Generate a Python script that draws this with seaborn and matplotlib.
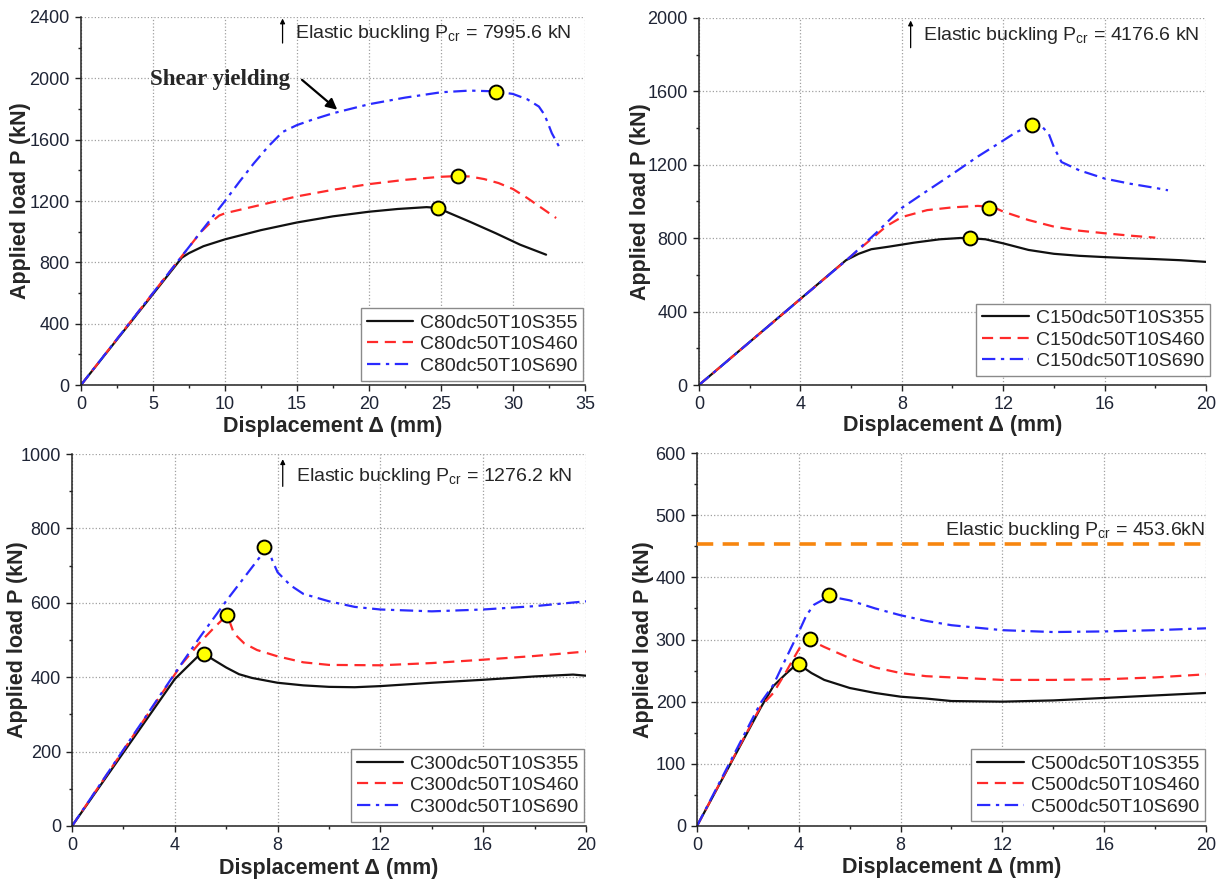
import matplotlib
matplotlib.use("Agg")
import matplotlib.pyplot as plt
from matplotlib.ticker import MultipleLocator
import seaborn as sns

# ---- C80 specimens ----
c80_labels = ["C80dc50T10S355", "C80dc50T10S460", "C80dc50T10S690"]
c80_x355 = [0, 7.0, 7.5, 8.5, 10, 12.5, 15, 17.5, 20, 22, 24, 24.8, 25.5, 27, 28.8, 30.5, 32.3]
c80_y355 = [0, 830, 860, 905, 950, 1010, 1060, 1100, 1130, 1148, 1160, 1155, 1125, 1065, 990, 915, 850]
c80_x460 = [0, 8.3, 9.0, 9.6, 10, 12.5, 15, 17.5, 20, 22.5, 25, 26, 27, 28, 29, 30, 31, 32, 33]
c80_y460 = [0, 995, 1060, 1105, 1120, 1175, 1230, 1273, 1310, 1338, 1358, 1362, 1360, 1343, 1317, 1278, 1219, 1154, 1089]
c80_x690 = [0, 9.0, 10, 11, 12, 13, 14, 15, 16, 17.5, 20, 22.5, 25, 27, 28.8, 30, 31, 31.8, 32.2, 32.7, 33.2]
c80_y690 = [0, 1080, 1200, 1325, 1445, 1555, 1650, 1695, 1728, 1772, 1831, 1874, 1909, 1920, 1915, 1898, 1863, 1816, 1761, 1642, 1555]
c80_peak_x = [24.8, 26.2, 28.8]
c80_peak_y = [1155, 1360, 1913]
c80_pcr = 7995.6

# ---- C150 specimens ----
c150_labels = ["C150dc50T10S355", "C150dc50T10S460", "C150dc50T10S690"]
c150_x355 = [0, 5.8, 6.3, 6.8, 7.5, 8.5, 9.5, 10.3, 10.7, 11.3, 12, 13, 14, 15, 16, 17, 18, 19, 20]
c150_y355 = [0, 680, 715, 740, 754, 776, 794, 801, 800, 794, 772, 736, 715, 704, 697, 691, 686, 680, 671]
c150_x460 = [0, 7.4, 8, 9, 10, 11, 11.6, 12, 13, 14, 15, 16, 17, 18]
c150_y460 = [0, 866, 915, 953, 968, 976, 970, 945, 899, 863, 841, 827, 814, 803]
c150_x690 = [0, 6, 7, 8, 9, 10, 11, 12, 12.5, 13, 13.5, 13.8, 14, 14.3, 15, 16, 17, 18, 18.5]
c150_y690 = [0, 702, 830, 965, 1058, 1150, 1245, 1332, 1377, 1408, 1413, 1368, 1296, 1215, 1170, 1125, 1097, 1074, 1061]
c150_peak_x = [10.7, 11.43, 13.15]
c150_peak_y = [800, 967, 1419]
c150_pcr = 4176.6

# ---- C300 specimens ----
c300_labels = ["C300dc50T10S355", "C300dc50T10S460", "C300dc50T10S690"]
c300_x355 = [0, 4, 4.5, 4.9, 5.15, 5.5, 6, 6.5, 7, 8, 9, 10, 11, 12, 14, 16, 18, 19.5, 20]
c300_y355 = [0, 395, 429, 456, 463, 447, 426, 408, 398, 385, 378, 374, 373, 376, 385, 393, 402, 407, 404]
c300_x460 = [0, 4.3, 5, 5.5, 5.9, 6.05, 6.3, 6.7, 7.2, 8, 9, 10, 12, 14, 16, 18, 20]
c300_y460 = [0, 438, 495, 531, 558, 565, 518, 491, 473, 456, 440, 433, 432, 438, 447, 457, 469]
c300_x690 = [0, 4, 5, 6, 7, 7.3, 7.6, 7.8, 8, 8.5, 9, 10, 11, 12, 14, 16, 18, 20]
c300_y690 = [0, 410, 510, 605, 695, 722, 750, 713, 682, 647, 624, 604, 589, 582, 577, 582, 591, 604]
c300_peak_x = [5.14, 6.02, 7.48]
c300_peak_y = [462, 568, 751]
c300_pcr = 1276.2

# ---- C500 specimens ----
c500_labels = ["C500dc50T10S355", "C500dc50T10S460", "C500dc50T10S690"]
c500_x355 = [0, 2.5, 3, 3.5, 3.8, 4.0, 4.5, 5, 6, 7, 8, 9, 10, 12, 14, 16, 18, 20]
c500_y355 = [0, 190, 225, 245, 256, 260, 246, 235, 222, 214, 208, 205, 201, 200, 202, 206, 210, 214]
c500_x460 = [0, 2.5, 3, 3.5, 3.8, 4.1, 4.3, 4.6, 5, 6, 7, 8, 9, 10, 12, 14, 16, 18, 20]
c500_y460 = [0, 192, 214, 248, 270, 291, 299, 296, 288, 270, 255, 246, 241, 239, 235, 235, 236, 239, 244]
c500_x690 = [0, 2.5, 3, 3.5, 4, 4.3, 4.6, 5, 5.5, 6, 7, 8, 9, 10, 12, 14, 16, 18, 20]
c500_y690 = [0, 198, 227, 270, 312, 339, 356, 365, 367, 363, 350, 339, 330, 323, 315, 312, 313, 315, 318]
c500_peak_x = [4.0, 4.43, 5.2]
c500_peak_y = [260, 301, 371]
c500_pcr = 453.6

sns.set_theme(style="ticks")
plt.rcParams["font.family"] = ["Liberation Sans", "DejaVu Sans"]
plt.rcParams["mathtext.fontset"] = "custom"
plt.rcParams["mathtext.rm"] = "Liberation Sans"
plt.rcParams["mathtext.it"] = "Liberation Sans:italic"
plt.rcParams["mathtext.bf"] = "Liberation Sans:bold"

fig = plt.figure(figsize=(12.23, 8.89), dpi=100)

positions = [
    [0.0662, 0.5669, 0.4121, 0.4140],
    [0.5715, 0.5669, 0.4146, 0.4129],
    [0.0589, 0.0709, 0.4202, 0.4184],
    [0.5699, 0.0709, 0.4162, 0.4195],
]

styles = [
    dict(color="#111111", linestyle="-", lw=1.6),
    dict(color="#ff2a2a", linestyle=(0, (5, 3)), lw=1.6),
    dict(color="#2a2aff", linestyle=(0, (6, 2.5, 1.5, 2.5)), lw=1.6),
]

panels = [
    dict(labels=c80_labels, xs=[c80_x355, c80_x460, c80_x690], ys=[c80_y355, c80_y460, c80_y690],
         px=c80_peak_x, py=c80_peak_y, xlim=35, xmaj=5, xmin=2.5, ylim=2400, ymaj=400, ymin=200,
         leg=(0.997, 0.012), ylab_x=-0.119, xlab_y=-0.114),
    dict(labels=c150_labels, xs=[c150_x355, c150_x460, c150_x690], ys=[c150_y355, c150_y460, c150_y690],
         px=c150_peak_x, py=c150_peak_y, xlim=20, xmaj=4, xmin=2, ylim=2000, ymaj=400, ymin=200,
         leg=(1.008, 0.025), ylab_x=-0.115, xlab_y=-0.109),
    dict(labels=c300_labels, xs=[c300_x355, c300_x460, c300_x690], ys=[c300_y355, c300_y460, c300_y690],
         px=c300_peak_x, py=c300_peak_y, xlim=20, xmaj=4, xmin=2, ylim=1000, ymaj=200, ymin=100,
         leg=(0.997, 0.012), ylab_x=-0.107, xlab_y=-0.113),
    dict(labels=c500_labels, xs=[c500_x355, c500_x460, c500_x690], ys=[c500_y355, c500_y460, c500_y690],
         px=c500_peak_x, py=c500_peak_y, xlim=20, xmaj=4, xmin=2, ylim=600, ymaj=100, ymin=50,
         leg=(0.998, 0.012), ylab_x=-0.106, xlab_y=-0.111),
]

axes = []
for pos, p in zip(positions, panels):
    ax = fig.add_axes(pos)
    axes.append(ax)
    for x, y, lab, st in zip(p["xs"], p["ys"], p["labels"], styles):
        sns.lineplot(x=x, y=y, ax=ax, label=lab, estimator=None, sort=False, **st)
    sns.scatterplot(x=p["px"], y=p["py"], ax=ax, color="#ffff00", edgecolor="black",
                    linewidth=1.4, s=100, zorder=5, legend=False)
    ax.set_xlim(0, p["xlim"])
    ax.set_ylim(0, p["ylim"])
    ax.xaxis.set_major_locator(MultipleLocator(p["xmaj"]))
    ax.xaxis.set_minor_locator(MultipleLocator(p["xmin"]))
    ax.yaxis.set_major_locator(MultipleLocator(p["ymaj"]))
    ax.yaxis.set_minor_locator(MultipleLocator(p["ymin"]))
    ax.grid(True, which="major", linestyle=":", color="#a0a0a0", lw=0.9)
    sns.despine(ax=ax)
    for sp in ("left", "bottom"):
        ax.spines[sp].set_color("#222222")
        ax.spines[sp].set_linewidth(1.1)
    ax.tick_params(which="major", direction="out", length=4, width=1, labelsize=13,
                   colors="#222222", labelcolor="#1e2435", pad=4)
    ax.tick_params(which="minor", direction="out", length=2.5, width=1, colors="#222222")
    ax.set_xlabel("Displacement Δ (mm)", fontsize=15.5, fontweight="bold", va="center")
    ax.set_ylabel("Applied load P (kN)", fontsize=15.5, fontweight="bold", va="center")
    ax.xaxis.set_label_coords(0.5, p["xlab_y"])
    ax.yaxis.set_label_coords(p["ylab_x"], 0.5)
    leg = ax.legend(loc="lower right", bbox_to_anchor=p["leg"], borderaxespad=0,
                    fontsize=14, frameon=True, fancybox=False, framealpha=1,
                    edgecolor="#8a8a8a", labelspacing=0.2, borderpad=0.3,
                    handlelength=2.4, handletextpad=0.35)
    leg.get_frame().set_linewidth(1.0)

ax1, ax2, ax3, ax4 = axes

arrow_kw = dict(arrowstyle="-|>", lw=0.9, color="black", mutation_scale=7, shrinkA=0, shrinkB=0)

# Elastic buckling notes (critical load lies above the plotted range)
ax1.annotate("", xy=(14.0, 2390), xytext=(14.0, 2230), arrowprops=arrow_kw)
ax1.text(14.85, 2293, "Elastic buckling P$_{\\mathrm{cr}}$ = %.1f kN" % c80_pcr,
         fontsize=14, va="center", ha="left")

ax2.annotate("", xy=(8.35, 1986), xytext=(8.35, 1838), arrowprops=arrow_kw)
ax2.text(8.85, 1902, "Elastic buckling P$_{\\mathrm{cr}}$ = %.1f kN" % c150_pcr,
         fontsize=14, va="center", ha="left")

ax3.annotate("", xy=(8.2, 986), xytext=(8.2, 913), arrowprops=arrow_kw)
ax3.text(8.7, 940, "Elastic buckling P$_{\\mathrm{cr}}$ = %.1f kN" % c300_pcr,
         fontsize=14, va="center", ha="left")

ax4.axhline(c500_pcr, color="#f7860f", lw=2.6, linestyle=(0, (4.5, 2.6)), zorder=3, clip_on=False)
ax4.text(19.95, 476, "Elastic buckling P$_{\\mathrm{cr}}$ = %.1fkN" % c500_pcr,
         fontsize=14, va="center", ha="right")

# Shear yielding callout on the S690 curve
ax1.annotate("", xy=(17.8, 1795), xytext=(15.35, 1990),
             arrowprops=dict(arrowstyle="-|>", lw=1.6, color="black", mutation_scale=16,
                             shrinkA=0, shrinkB=0))
ax1.text(9.65, 1995, "Shear yielding", fontsize=16.5, fontweight="bold",
         family=["Liberation Serif", "DejaVu Serif"], ha="center", va="center")

fig.savefig("out.png", dpi=100)
